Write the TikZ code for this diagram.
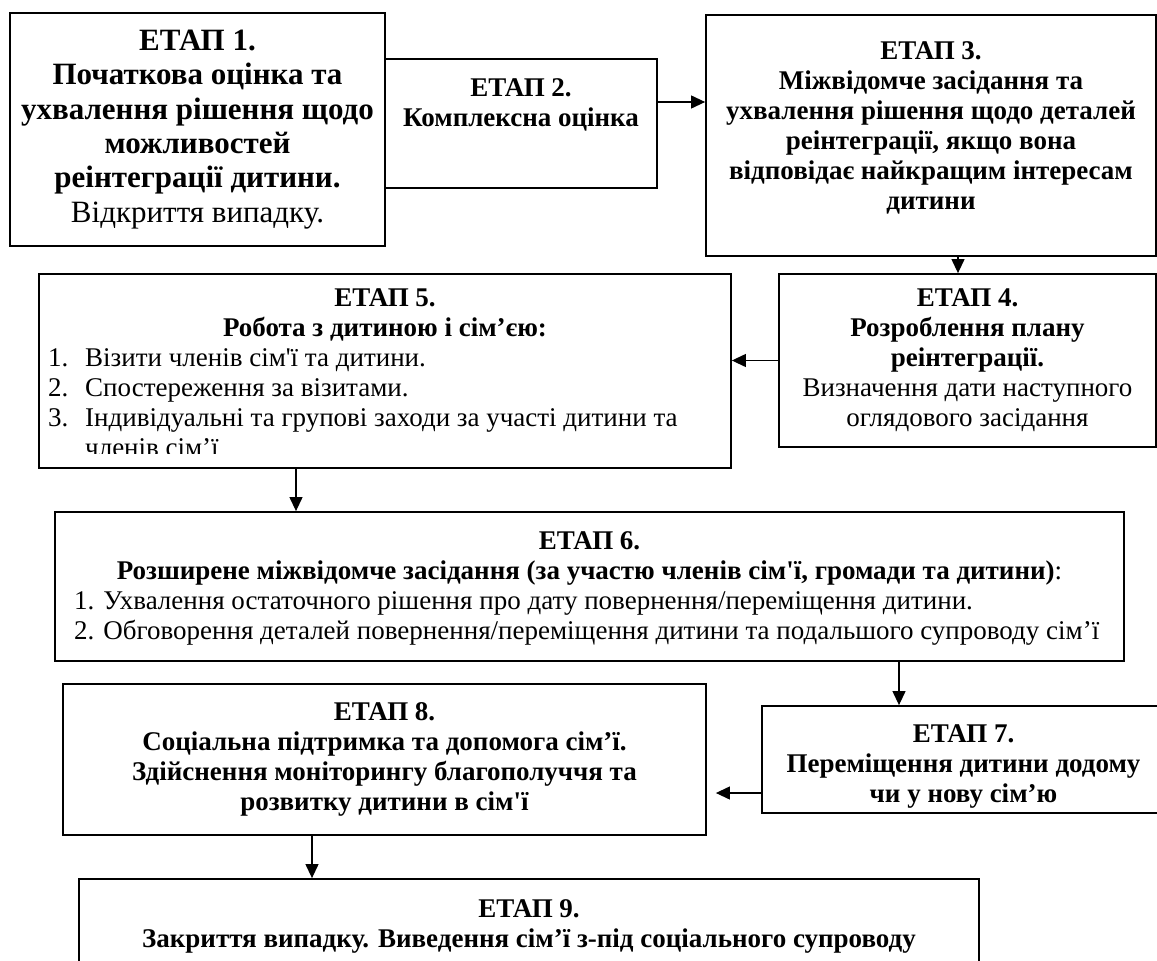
\documentclass[tikz,border=0pt]{standalone}
\usepackage{fontspec}
\setmainfont{Liberation Serif}[Ligatures=TeXOff]
\usetikzlibrary{arrows.meta, positioning, calc}

\newcommand{\stagefont}{\fontsize{27}{30}\selectfont}
\newcommand{\bigstagefont}{\fontsize{31}{34.4}\selectfont}

\begin{document}
\begin{tikzpicture}[x=1pt, y=-1pt, >={Triangle[length=14pt, width=13pt]},
	box/.style={draw, line width=1.8pt, inner sep=0pt},
	txt/.style={align=center, inner sep=0pt, font=\stagefont},
	conn/.style={->, line width=1.2pt}]

		\useasboundingbox (0,0) rectangle (1157,961);

		% Етапи
		\node[box, txt, font=\bigstagefont, minimum width=375pt, minimum height=233pt] (s1) at (197.5,129.5)
			{\textbf{ЕТАП 1.}\\\textbf{Початкова оцінка та}\\\textbf{ухвалення рішення щодо}\\\textbf{можливостей}\\\textbf{реінтеграції дитини.}\\Відкриття випадку.};

		\node[box, minimum width=272pt, minimum height=129pt] (s2) at (521,123.5) {};
		\node[txt] (t2) at (521,105) {\textbf{ЕТАП 2.}\\\textbf{Комплексна оцінка}};

		\node[box, minimum width=450pt, minimum height=241pt] (s3) at (931,135.5) {};
		\node[txt] (t3) at (931,128) {\textbf{ЕТАП 3.}\\\textbf{Міжвідомче засідання та}\\\textbf{ухвалення рішення щодо деталей}\\\textbf{реінтеграції, якщо вона}\\\textbf{відповідає найкращим інтересам}\\\textbf{дитини}};

		\node[box, txt, minimum width=377pt, minimum height=173pt] (s4) at (967.5,360.5)
			{\textbf{ЕТАП 4.}\\\textbf{Розроблення плану}\\\textbf{реінтеграції.}\\Визначення дати наступного\\оглядового засідання};

		\node[box, minimum width=692pt, minimum height=194pt] (s5) at (385,371) {};
		\node[txt] (t5) at (385,315) {\textbf{ЕТАП 5.}\\\textbf{Робота з дитиною і сім’єю:}};
		\begin{scope}
			\clip (39,274) rectangle (731,453);
			\node[txt, align=left, anchor=west] (l5) at (48,403)
				{\makebox[37pt][l]{1.}Візити членів сім'ї та дитини.\\\makebox[37pt][l]{2.}Спостереження за візитами.\\\makebox[37pt][l]{3.}Індивідуальні та групові заходи за участі дитини та\\\hspace*{37pt}членів сім’ї};
		\end{scope}

		\node[box, minimum width=1069pt, minimum height=149pt] (s6) at (589.5,586.5) {};
		\node[txt] (t6) at (589.5,558.5) {\textbf{ЕТАП 6.}\\\textbf{Розширене міжвідомче засідання (за участю членів сім'ї, громади та дитини)}:};
		\node[txt, align=left, anchor=west] (l6) at (74,618)
			{1. Ухвалення остаточного рішення про дату повернення/переміщення дитини.\\2. Обговорення деталей повернення/переміщення дитини та подальшого супроводу сім’ї};

		\node[box, minimum width=403pt, minimum height=107pt] (s7) at (963.5,759.5) {};
		\node[txt] (t7) at (963.5,766) {\textbf{ЕТАП 7.}\\\textbf{Переміщення дитини додому}\\\textbf{чи у нову сім’ю}};

		\node[box, txt, minimum width=643pt, minimum height=151pt] (s8) at (384.5,759.5)
			{\textbf{ЕТАП 8.}\\\textbf{Соціальна підтримка та допомога сім’ї.}\\\textbf{Здійснення моніторингу благополуччя та}\\\textbf{розвитку дитини в сім'ї}};

		\node[box, minimum width=900pt, minimum height=131pt] (s9) at (529,944.5) {};
		\node[txt] (t9) at (529,926) {\textbf{ЕТАП 9.}\\\textbf{Закриття випадку. Виведення сім’ї з-під соціального супроводу}};

		% Стрілки
		\coordinate (a23) at ([yshift=21.5pt]s2.east);
		\draw[conn] (a23) -- (a23 -| s3.west);
		\coordinate (a34) at ([xshift=27pt]s3.south);
		\draw[conn] (a34) -- (a34 |- s4.north);
		\draw[conn] (s4.west) -- (s4.west -| s5.east);
		\coordinate (a56) at ([xshift=-89pt]s5.south);
		\draw[conn] (a56) -- (a56 |- s6.north);
		\coordinate (a67) at ([xshift=309.5pt]s6.south);
		\draw[conn] (a67) -- (a67 |- s7.north);
		\coordinate (a78) at ([yshift=-33.5pt]s7.west);
		\draw[conn, shorten >=9pt] (a78) -- (a78 -| s8.east);
		\coordinate (a89) at ([xshift=-72.5pt]s8.south);
		\draw[conn] (a89) -- (a89 |- s9.north);
\end{tikzpicture}
\end{document}
